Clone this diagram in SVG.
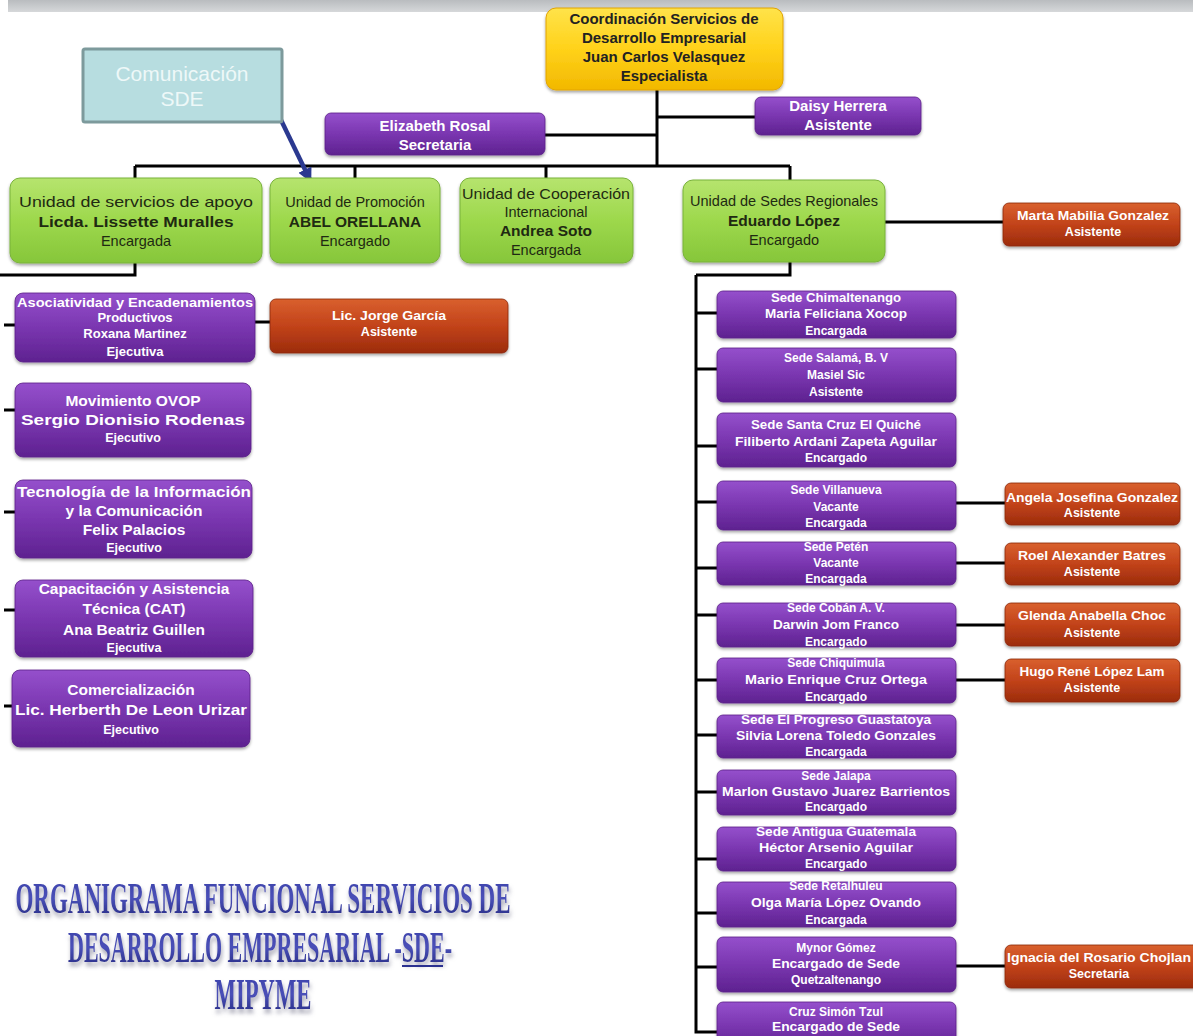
<svg xmlns="http://www.w3.org/2000/svg" width="1193" height="1036" viewBox="0 0 1193 1036">
<defs>
<linearGradient id="gBar" x1="0" y1="0" x2="0" y2="1"><stop offset="0" stop-color="#b9bcbf"/><stop offset="1" stop-color="#d6d8da"/></linearGradient>
<linearGradient id="gYel" x1="0" y1="0" x2="0" y2="1"><stop offset="0" stop-color="#ffe34a"/><stop offset="0.5" stop-color="#ffd21a"/><stop offset="1" stop-color="#f2b800"/></linearGradient>
<linearGradient id="gGrn" x1="0" y1="0" x2="0" y2="1"><stop offset="0" stop-color="#b6e46e"/><stop offset="0.5" stop-color="#9dd84c"/><stop offset="1" stop-color="#86c63a"/></linearGradient>
<linearGradient id="gPur" x1="0" y1="0" x2="0" y2="1"><stop offset="0" stop-color="#9550cc"/><stop offset="0.5" stop-color="#7a36b0"/><stop offset="1" stop-color="#5e2290"/></linearGradient>
<linearGradient id="gRed" x1="0" y1="0" x2="0" y2="1"><stop offset="0" stop-color="#d9602e"/><stop offset="0.5" stop-color="#c2431a"/><stop offset="1" stop-color="#9c2c0c"/></linearGradient>
<linearGradient id="gTitle" x1="0" y1="0" x2="0" y2="1"><stop offset="0" stop-color="#3a3fa8"/><stop offset="0.5" stop-color="#4a50b8"/><stop offset="1" stop-color="#1f2378"/></linearGradient>
<filter id="sh" x="-10%" y="-10%" width="120%" height="135%"><feDropShadow dx="0" dy="2" stdDeviation="1.6" flood-color="#000" flood-opacity="0.35"/></filter>
<filter id="tsh" x="-5%" y="-20%" width="110%" height="160%"><feDropShadow dx="1" dy="4" stdDeviation="2.2" flood-color="#7a7a90" flood-opacity="0.7"/></filter>
<marker id="arr" viewBox="0 0 10 10" refX="8" refY="5" markerWidth="3.2" markerHeight="3.2" orient="auto"><path d="M0,0 L10,5 L0,10 z" fill="#2b3990"/></marker>
<style>
.yel{fill:url(#gYel);stroke:#e2a400;stroke-width:1;filter:url(#sh)}
.grn{fill:url(#gGrn);stroke:#79b23a;stroke-width:1;filter:url(#sh)}
.pur{fill:url(#gPur);stroke:#5a2088;stroke-width:0.8;filter:url(#sh)}
.red{fill:url(#gRed);stroke:#8a260a;stroke-width:0.8;filter:url(#sh)}
.teal{fill:#b7dde0;stroke:#7d9a9c;stroke-width:3}
text{font-family:"Liberation Sans",Arial,sans-serif;text-anchor:middle}
.ty{font-size:15px;font-weight:bold;fill:#222}
.tg{font-size:14.5px;fill:#1f2a12}
.tgb{font-size:15.5px;font-weight:bold;fill:#1f2a12}
.tw{font-weight:bold;fill:#fff}
.s12{font-size:12.5px}
.s13{font-size:12px}
.s14{font-size:13px}
.s15{font-size:15px}
.s16{font-size:15.5px}
.tc{font-size:21px;fill:#eef8f8}
.title{font-family:"Liberation Serif","Times New Roman",serif;font-weight:bold;font-size:44px;fill:url(#gTitle);filter:url(#tsh)}
.ln{stroke:#000;stroke-width:3;fill:none}
</style>
</defs>
<rect x="8" y="0" width="1185" height="12" fill="url(#gBar)"/>

<g id="connectors">
<path class="ln" d="M657,90 V166 M657,117 H755 M545,135 H657 M135,166 H790 M135,166 V178 M355,166 V178 M546,166 V178 M790,166 V180"/>
<path class="ln" d="M885,222 H1003"/>
<path class="ln" d="M135,263 V275 H0"/>
<path class="ln" d="M4,325 H15 M4,410 H15 M4,512 H15 M4,610 H15 M4,706 H12"/>
<path class="ln" d="M255,322 H270"/>
<path class="ln" d="M790,262 V275 H696 M696,275 V1032 H717"/>
<path class="ln" d="M696,313 H717 M696,369 H717 M696,446 H717 M696,502 H717 M696,568 H717 M696,615 H717 M696,680 H717 M696,735 H717 M696,792 H717 M696,859 H717 M696,913 H717 M696,967 H717"/>
<path class="ln" d="M956,503 H1005 M956,563 H1005 M956,625 H1005 M956,680 H1005 M956,966 H1005"/>
<path d="M281,120 L310,180" stroke="#2b3990" stroke-width="4.5" fill="none" marker-end="url(#arr)"/>
</g>

<g id="coord"><rect class="yel" x="546" y="8" width="237" height="82" rx="10"/>
<text class="ty" x="664" y="24">Coordinación Servicios de</text><text class="ty" x="664" y="43">Desarrollo Empresarial</text><text class="ty" x="664" y="62">Juan Carlos Velasquez</text><text class="ty" x="664" y="81">Especialista</text></g>

<g id="comunicacion"><rect class="teal" x="83" y="49" width="199" height="73" rx="2"/>
<text class="tc" x="182" y="81">Comunicación</text><text class="tc" x="182" y="106">SDE</text></g>

<g id="daisy"><rect class="pur" x="755" y="97" width="166" height="38" rx="6"/>
<text class="tw s15" x="838" y="111">Daisy Herrera</text><text class="tw s15" x="838" y="130">Asistente</text></g>

<g id="elizabeth"><rect class="pur" x="325" y="113" width="220" height="42" rx="6"/>
<text class="tw s15" x="435" y="131">Elizabeth Rosal</text><text class="tw s15" x="435" y="150">Secretaria</text></g>

<g id="u-apoyo"><rect class="grn" x="10" y="178" width="252" height="85" rx="10"/>
<text class="tg" x="136" y="207" textLength="234" lengthAdjust="spacingAndGlyphs">Unidad de servicios de  apoyo</text><text class="tgb" x="136" y="227" textLength="195" lengthAdjust="spacingAndGlyphs">Licda. Lissette Muralles</text><text class="tg" x="136" y="246">Encargada</text></g>

<g id="u-promocion"><rect class="grn" x="270" y="178" width="170" height="85" rx="10"/>
<text class="tg" x="355" y="207">Unidad de Promoción</text><text class="tgb" x="355" y="227">ABEL  ORELLANA</text><text class="tg" x="355" y="246">Encargado</text></g>

<g id="u-cooperacion"><rect class="grn" x="460" y="178" width="173" height="85" rx="10"/>
<text class="tg" x="546" y="199" textLength="168" lengthAdjust="spacingAndGlyphs">Unidad de Cooperación</text><text class="tg" x="546" y="217">Internacional</text><text class="tgb" x="546" y="236">Andrea Soto</text><text class="tg" x="546" y="255">Encargada</text></g>

<g id="u-sedes"><rect class="grn" x="683" y="180" width="202" height="82" rx="10"/>
<text class="tg" x="784" y="206">Unidad de Sedes Regionales</text><text class="tgb" x="784" y="226">Eduardo López</text><text class="tg" x="784" y="245">Encargado</text></g>

<g id="marta"><rect class="red" x="1003" y="203" width="177" height="43" rx="6"/>
<text class="tw s12" x="1093" y="220" textLength="152" lengthAdjust="spacingAndGlyphs">Marta  Mabilia Gonzalez</text><text class="tw s12" x="1093" y="236">Asistente</text></g>

<g id="asociatividad"><rect class="pur" x="15" y="293" width="240" height="69" rx="8"/>
<text class="tw s14" x="135" y="307" textLength="236" lengthAdjust="spacingAndGlyphs">Asociatividad y Encadenamientos</text><text class="tw s14" x="135" y="322">Productivos</text><text class="tw s14" x="135" y="338">Roxana Martinez</text><text class="tw s14" x="135" y="356">Ejecutiva</text></g>

<g id="jorge"><rect class="red" x="270" y="299" width="238" height="54" rx="6"/>
<text class="tw s12" x="389" y="320" textLength="114" lengthAdjust="spacingAndGlyphs">Lic. Jorge García</text><text class="tw s12" x="389" y="336">Asistente</text></g>

<g id="ovop"><rect class="pur" x="15" y="383" width="236" height="74" rx="8"/>
<text class="tw s16" x="133" y="406">Movimiento OVOP</text><text class="tw s16" x="133" y="425" textLength="224" lengthAdjust="spacingAndGlyphs">Sergio  Dionisio Rodenas</text><text class="tw s12" x="133" y="442">Ejecutivo</text></g>

<g id="tic"><rect class="pur" x="15" y="480" width="237" height="78" rx="8"/>
<text class="tw s16" x="134" y="497" textLength="234" lengthAdjust="spacingAndGlyphs">Tecnología de la Información</text><text class="tw s16" x="134" y="516">y la Comunicación</text><text class="tw s16" x="134" y="535">Felix Palacios</text><text class="tw s12" x="134" y="552">Ejecutivo</text></g>

<g id="cat"><rect class="pur" x="15" y="580" width="238" height="77" rx="8"/>
<text class="tw s16" x="134" y="594">Capacitación y Asistencia</text><text class="tw s16" x="134" y="614">Técnica (CAT)</text><text class="tw s16" x="134" y="635">Ana Beatriz Guillen</text><text class="tw s12" x="134" y="652">Ejecutiva</text></g>

<g id="comercializacion"><rect class="pur" x="12" y="670" width="238" height="77" rx="8"/>
<text class="tw s16" x="131" y="695">Comercialización</text><text class="tw s16" x="131" y="715" textLength="232" lengthAdjust="spacingAndGlyphs">Lic. Herberth De Leon Urizar</text><text class="tw s12" x="131" y="734">Ejecutivo</text></g>

<g id="s-chimaltenango"><rect class="pur" x="717" y="291" width="239" height="47" rx="6"/>
<text class="tw s13" x="836" y="302" textLength="130" lengthAdjust="spacingAndGlyphs">Sede  Chimaltenango</text><text class="tw s13" x="836" y="318" textLength="142" lengthAdjust="spacingAndGlyphs">Maria  Feliciana Xocop</text><text class="tw s13" x="836" y="335">Encargada</text></g>

<g id="s-salama"><rect class="pur" x="717" y="348" width="239" height="54" rx="6"/>
<text class="tw s13" x="836" y="362">Sede  Salamá, B. V</text><text class="tw s13" x="836" y="379">Masiel  Sic</text><text class="tw s13" x="836" y="396">Asistente</text></g>

<g id="s-quiche"><rect class="pur" x="717" y="413" width="239" height="54" rx="6"/>
<text class="tw s13" x="836" y="429" textLength="170" lengthAdjust="spacingAndGlyphs">Sede  Santa Cruz El Quiché</text><text class="tw s13" x="836" y="446" textLength="202" lengthAdjust="spacingAndGlyphs">Filiberto Ardani Zapeta Aguilar</text><text class="tw s13" x="836" y="462">Encargado</text></g>

<g id="s-villanueva"><rect class="pur" x="717" y="481" width="239" height="49" rx="6"/>
<text class="tw s13" x="836" y="494">Sede Villanueva</text><text class="tw s13" x="836" y="511">Vacante</text><text class="tw s13" x="836" y="527">Encargada</text></g>

<g id="angela"><rect class="red" x="1005" y="483" width="175" height="42" rx="6"/>
<text class="tw s12" x="1092" y="502" textLength="172" lengthAdjust="spacingAndGlyphs">Angela  Josefina Gonzalez</text><text class="tw s12" x="1092" y="517">Asistente</text></g>

<g id="s-peten"><rect class="pur" x="717" y="542" width="239" height="43" rx="6"/>
<text class="tw s13" x="836" y="551">Sede Petén</text><text class="tw s13" x="836" y="567">Vacante</text><text class="tw s13" x="836" y="583">Encargada</text></g>

<g id="roel"><rect class="red" x="1005" y="543" width="175" height="42" rx="6"/>
<text class="tw s12" x="1092" y="560" textLength="148" lengthAdjust="spacingAndGlyphs">Roel Alexander  Batres</text><text class="tw s12" x="1092" y="576">Asistente</text></g>

<g id="s-coban"><rect class="pur" x="717" y="603" width="239" height="44" rx="6"/>
<text class="tw s13" x="836" y="612">Sede Cobán A. V.</text><text class="tw s13" x="836" y="629" textLength="126" lengthAdjust="spacingAndGlyphs">Darwin Jom  Franco</text><text class="tw s13" x="836" y="646">Encargado</text></g>

<g id="glenda"><rect class="red" x="1005" y="603" width="175" height="43" rx="6"/>
<text class="tw s12" x="1092" y="620" textLength="148" lengthAdjust="spacingAndGlyphs">Glenda Anabella  Choc</text><text class="tw s12" x="1092" y="637">Asistente</text></g>

<g id="s-chiquimula"><rect class="pur" x="717" y="658" width="239" height="45" rx="6"/>
<text class="tw s13" x="836" y="667">Sede Chiquimula</text><text class="tw s13" x="836" y="684" textLength="182" lengthAdjust="spacingAndGlyphs">Mario Enrique  Cruz Ortega</text><text class="tw s13" x="836" y="701">Encargado</text></g>

<g id="hugo"><rect class="red" x="1005" y="659" width="175" height="43" rx="6"/>
<text class="tw s12" x="1092" y="676" textLength="145" lengthAdjust="spacingAndGlyphs">Hugo René López Lam</text><text class="tw s12" x="1092" y="692">Asistente</text></g>

<g id="s-progreso"><rect class="pur" x="717" y="715" width="239" height="43" rx="6"/>
<text class="tw s13" x="836" y="724" textLength="190" lengthAdjust="spacingAndGlyphs">Sede El Progreso Guastatoya</text><text class="tw s13" x="836" y="740" textLength="200" lengthAdjust="spacingAndGlyphs">Silvia Lorena Toledo Gonzales</text><text class="tw s13" x="836" y="756">Encargada</text></g>

<g id="s-jalapa"><rect class="pur" x="717" y="770" width="239" height="45" rx="6"/>
<text class="tw s13" x="836" y="780">Sede Jalapa</text><text class="tw s13" x="836" y="796" textLength="228" lengthAdjust="spacingAndGlyphs">Marlon Gustavo Juarez Barrientos</text><text class="tw s13" x="836" y="811">Encargado</text></g>

<g id="s-antigua"><rect class="pur" x="717" y="827" width="239" height="44" rx="6"/>
<text class="tw s13" x="836" y="836" textLength="160" lengthAdjust="spacingAndGlyphs">Sede Antigua Guatemala</text><text class="tw s13" x="836" y="852" textLength="154" lengthAdjust="spacingAndGlyphs">Héctor  Arsenio Aguilar</text><text class="tw s13" x="836" y="868">Encargado</text></g>

<g id="s-retalhuleu"><rect class="pur" x="717" y="882" width="239" height="45" rx="6"/>
<text class="tw s13" x="836" y="890">Sede Retalhuleu</text><text class="tw s13" x="836" y="907" textLength="170" lengthAdjust="spacingAndGlyphs">Olga María  López Ovando</text><text class="tw s13" x="836" y="924">Encargada</text></g>

<g id="s-quetzaltenango"><rect class="pur" x="717" y="937" width="239" height="55" rx="6"/>
<text class="tw s13" x="836" y="952">Mynor Gómez</text><text class="tw s13" x="836" y="968" textLength="128" lengthAdjust="spacingAndGlyphs">Encargado de Sede</text><text class="tw s13" x="836" y="984">Quetzaltenango</text></g>

<g id="ignacia"><rect class="red" x="1005" y="945" width="196" height="43" rx="6"/>
<text class="tw s12" x="1099" y="962" textLength="184" lengthAdjust="spacingAndGlyphs">Ignacia del Rosario Chojlan</text><text class="tw s12" x="1099" y="978">Secretaria</text></g>

<g id="s-tzul"><rect class="pur" x="717" y="1002" width="239" height="48" rx="6"/>
<text class="tw s13" x="836" y="1016">Cruz  Simón Tzul</text><text class="tw s13" x="836" y="1031" textLength="128" lengthAdjust="spacingAndGlyphs">Encargado de Sede</text></g>

<g id="title">
<text class="title" x="263" y="913" textLength="495" lengthAdjust="spacingAndGlyphs">ORGANIGRAMA FUNCIONAL SERVICIOS DE</text>
<text class="title" x="260" y="962" textLength="384" lengthAdjust="spacingAndGlyphs">DESARROLLO EMPRESARIAL -SDE-</text>
<path d="M402,966 H443" stroke="#2b3190" stroke-width="2"/>
<text class="title" x="263" y="1009" textLength="97" lengthAdjust="spacingAndGlyphs">MIPYME</text>
</g>
</svg>
